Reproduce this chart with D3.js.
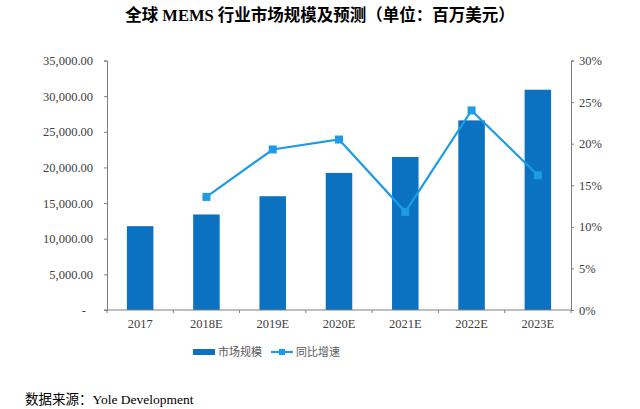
<!DOCTYPE html>
<html>
<head>
<meta charset="utf-8">
<script src="https://cdn.jsdelivr.net/npm/d3@7"></script>
<style>
body{margin:0;background:#fff;}
svg{display:block;}
.axis text{font-family:"Liberation Serif","Times New Roman",serif;font-size:12.5px;fill:#404040;}
.axis path,.axis line{stroke:#7f7f7f;}
</style>
</head>
<body>
<svg id="chart" width="640" height="409"></svg>
<script>
var years = ["2017","2018E","2019E","2020E","2021E","2022E","2023E"];
var marketSize = [11760,13400,15960,19230,21470,26600,30900];
var growth = [null,0.136,0.193,0.205,0.118,0.240,0.162];
var leftTicks = [0,5000,10000,15000,20000,25000,30000,35000];
var rightTicks = [0,0.05,0.10,0.15,0.20,0.25,0.30];

var svg = d3.select("#chart");
var plotLeft = 107, plotRight = 571, plotTop = 60.5, plotBottom = 310;
var barColor = "#0b72c2", lineColor = "#1e9be6";

var x = d3.scaleBand().domain(years).range([plotLeft, plotRight]).paddingInner(0.6).paddingOuter(0.3);
var xTick = d3.scaleLinear().domain([0, years.length]).range([plotLeft, plotRight]);
var y = d3.scaleLinear().domain([0,35000]).range([plotBottom, plotTop]);
var y2 = d3.scaleLinear().domain([0,0.30]).range([plotBottom, plotTop]);

svg.append("text")
	.attr("x", 320).attr("y", 21)
	.attr("text-anchor","middle")
	.style("font-family",'"Liberation Serif","Noto Sans CJK SC",serif')
	.style("font-weight","bold")
	.style("font-size","16.5px")
	.attr("fill","#000")
	.text("全球 MEMS 行业市场规模及预测（单位：百万美元）");

// bars
svg.append("g").selectAll("rect")
	.data(years).enter()
	.append("rect")
	.attr("x", function(d){ return x(d);})
	.attr("width", x.bandwidth())
	.attr("y", function(d,i){ return y(marketSize[i]);})
	.attr("height", function(d,i){ return plotBottom - y(marketSize[i]);})
	.attr("fill", barColor);

// left axis
var yAxis = svg.append("g").attr("class","axis")
	.attr("transform","translate("+plotLeft+",0)")
	.call(d3.axisLeft(y).tickValues(leftTicks).tickSize(3).tickPadding(11)
		.tickFormat(function(d){ return d === 0 ? "-" : d3.format(",.2f")(d);}));
yAxis.selectAll("text").filter(function(d){ return d === 0;}).attr("dx", -7);

// right axis
svg.append("g").attr("class","axis")
	.attr("transform","translate("+plotRight+",0)")
	.call(d3.axisRight(y2).tickValues(rightTicks).tickSize(3).tickPadding(5)
		.tickFormat(d3.format(".0%")));

// bottom axis
var xAxis = svg.append("g").attr("class","axis")
	.attr("transform","translate(0,"+plotBottom+")");
xAxis.append("line").attr("x1", plotLeft - 3).attr("x2", plotRight)
	.attr("y1",0).attr("y2",0).attr("stroke","#7f7f7f");
xAxis.selectAll("line.tk")
	.data(d3.range(years.length + 1)).enter()
	.append("line").attr("class","tk")
	.attr("x1", function(d){ return xTick(d);})
	.attr("x2", function(d){ return xTick(d);})
	.attr("y1",0).attr("y2",3)
	.attr("stroke","#7f7f7f");
xAxis.selectAll("text")
	.data(years).enter()
	.append("text")
	.attr("x", function(d){ return x(d) + x.bandwidth()/2;})
	.attr("y", 18)
	.attr("text-anchor","middle")
	.text(function(d){ return d;});

// growth line
var pts = years.map(function(d,i){ return {year:d, v:growth[i]};})
	.filter(function(p){ return p.v !== null;});
var line = d3.line()
	.x(function(p){ return x(p.year) + x.bandwidth()/2;})
	.y(function(p){ return y2(p.v);});
svg.append("path")
	.datum(pts)
	.attr("d", line)
	.attr("fill","none")
	.attr("stroke", lineColor)
	.attr("stroke-width", 2.2);
svg.append("g").selectAll("rect")
	.data(pts).enter()
	.append("rect")
	.attr("x", function(p){ return x(p.year) + x.bandwidth()/2 - 4;})
	.attr("y", function(p){ return y2(p.v) - 4;})
	.attr("width", 8).attr("height", 8)
	.attr("fill", lineColor);

// legend
var lg = svg.append("g")
	.style("font-family",'"Noto Sans CJK SC",sans-serif')
	.style("font-size","11px");
lg.append("rect").attr("x",193).attr("y",349).attr("width",22).attr("height",6).attr("fill",barColor);
lg.append("text").attr("x",218).attr("y",356).attr("fill","#595959").text("市场规模");
lg.append("line").attr("x1",271).attr("x2",293).attr("y1",352).attr("y2",352)
	.attr("stroke",lineColor).attr("stroke-width",2.2);
lg.append("rect").attr("x",279).attr("y",349).attr("width",6).attr("height",6).attr("fill",lineColor);
lg.append("text").attr("x",296).attr("y",356).attr("fill","#595959").text("同比增速");

// source
svg.append("text")
	.attr("x",25).attr("y",404)
	.style("font-family",'"Liberation Serif","Noto Sans CJK SC",serif')
	.style("font-size","13.5px")
	.attr("fill","#000")
	.text("数据来源：Yole Development");
</script>
</body>
</html>
